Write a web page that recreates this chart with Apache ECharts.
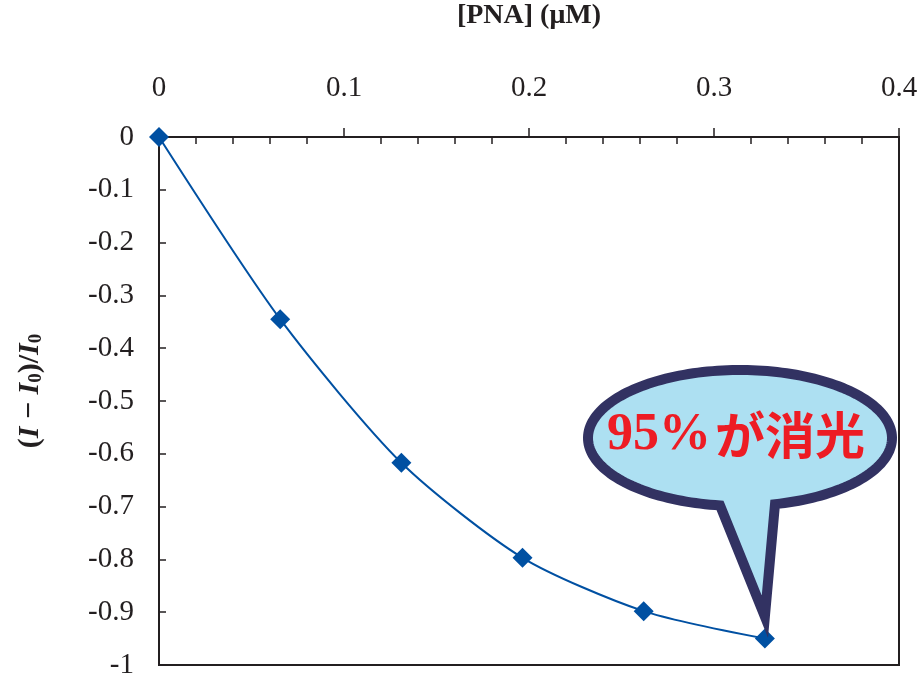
<!DOCTYPE html>
<html>
<head>
<meta charset="utf-8">
<script src="https://cdn.jsdelivr.net/npm/echarts@6/dist/echarts.min.js"></script>
<style>
  html, body { margin: 0; padding: 0; background: #fff; }
  #chart { width: 922px; height: 677px; }
</style>
</head>
<body>
<div id="chart"></div>
<script>
// PNA concentration (µM) and relative fluorescence change (I - I0)/I0
const pnaConc = [0, 0.0655, 0.131, 0.1965, 0.262, 0.3275];
const quench = [0, -0.345, -0.617, -0.797, -0.898, -0.95];
const calloutPct = '95%';
const calloutWord = 'が消光';

const INK = '#231f20';
const SERIF = 'Liberation Serif';
const RED = '#ed1c24';

const chart = echarts.init(document.getElementById('chart'), null, { renderer: 'canvas' });

const option = {
  animation: false,
  backgroundColor: '#ffffff',
  title: {
    // callout caption, drawn on top of the bubble
    text: '{a|' + calloutPct + '}{b|' + calloutWord + '}',
    left: 736, top: 436, textAlign: 'center', textVerticalAlign: 'middle',
    padding: 0, z: 12,
    textStyle: {
      rich: {
        a: { fontFamily: SERIF, fontWeight: 'bold', fontSize: 52, color: RED, lineHeight: 60 },
        b: { fontFamily: 'Noto Sans CJK JP', fontWeight: 'bold', fontSize: 50, color: RED, lineHeight: 60, padding: [0, 0, 2, 4] }
      }
    }
  },
  grid: {
    left: 159, top: 137, width: 740, height: 528,
    outerBoundsMode: 'none', containLabel: false,
    show: true, borderColor: INK, borderWidth: 2, backgroundColor: 'transparent'
  },
  xAxis: [
    {
      type: 'value', position: 'top', min: 0, max: 0.4, interval: 0.1,
      name: '[PNA] (μM)', nameLocation: 'middle', nameGap: 107,
      nameTextStyle: { fontFamily: SERIF, fontWeight: 'bold', fontSize: 28, color: INK },
      axisLine: { show: true, lineStyle: { color: INK, width: 2 } },
      axisTick: { show: true, inside: false, length: 9, lineStyle: { color: INK, width: 1.5 } },
      axisLabel: { margin: 34, fontFamily: SERIF, fontSize: 29, color: INK },
      splitLine: { show: false }
    },
    {
      // inward minor ticks every 0.02
      type: 'value', position: 'top', min: 0, max: 0.4, interval: 0.1,
      axisLine: { show: false },
      axisTick: { show: false, inside: true },
      minorTick: { show: true, splitNumber: 5, length: 7, lineStyle: { color: INK, width: 1.5 } },
      axisLabel: { show: false },
      splitLine: { show: false }
    }
  ],
  yAxis: {
    type: 'value', min: -1, max: 0, interval: 0.1,
    name: '{p|(}{i|I}{p| − }{i|I}{s|0}{p|)/}{i|I}{s|0}',
    nameLocation: 'middle', nameRotate: 90, nameGap: 113,
    nameTextStyle: {
      padding: [0, 0, 0, 20],
      rich: {
        p: { fontFamily: SERIF, fontWeight: 'bold', fontSize: 30, color: INK, lineHeight: 32 },
        i: { fontFamily: SERIF, fontWeight: 'bold', fontStyle: 'italic', fontSize: 30, color: INK, lineHeight: 32 },
        s: { fontFamily: SERIF, fontWeight: 'bold', fontSize: 19, color: INK, lineHeight: 32, verticalAlign: 'bottom', padding: [10, 0, 0, 0] }
      }
    },
    axisLine: { show: true, lineStyle: { color: INK, width: 2 } },
    axisTick: { show: true, inside: true, length: 7, lineStyle: { color: INK, width: 1.5 } },
    axisLabel: {
      margin: 25, fontFamily: SERIF, fontSize: 29, color: INK,
      formatter: v => String(Math.round(v * 10) / 10)
    },
    splitLine: { show: false }
  },
  series: [{
    type: 'line',
    xAxisIndex: 0,
    data: pnaConc.map((x, i) => [x, quench[i]]),
    smooth: 0.25,
    symbol: 'diamond',
    symbolSize: 20,
    showAllSymbol: true,
    lineStyle: { color: '#0050a2', width: 2 },
    itemStyle: { color: '#0050a2' },
    z: 3
  }]
};

chart.setOption(option);

// Speech-bubble outline pointing at the final point
function drawBubble() {
  const last = pnaConc.length - 1;
  const tipPt = chart.convertToPixel({ xAxisIndex: 0, yAxisIndex: 0 }, [pnaConc[last], quench[last]]);
  const cx = 740, cy = 438, rx = 152, ry = 68;
  const tip = [tipPt[0], tipPt[1] - 22];
  const leftX = 720, rightX = 775;
  const aL = Math.acos((leftX - cx) / rx);   // angles on the lower half (y grows downward)
  const aR = Math.acos((rightX - cx) / rx);
  const pts = [];
  pts.push([leftX, cy + ry * Math.sin(aL)]);
  pts.push(tip);
  pts.push([rightX, cy + ry * Math.sin(aR)]);
  // around the ellipse from the right base, over the top, back to the left base
  const endA = aL - 2 * Math.PI;
  const n = 180;
  for (let k = 1; k < n; k++) {
    const t = aR - (aR - endA) * k / n;
    pts.push([cx + rx * Math.cos(t), cy + ry * Math.sin(t)]);
  }
  chart.setOption({
    graphic: [{
      type: 'polygon', z: 10,
      shape: { points: pts },
      style: { fill: '#ade0f2', stroke: '#323262', lineWidth: 10, lineJoin: 'miter', miterLimit: 10 }
    }]
  });
}
drawBubble();
</script>
</body>
</html>
